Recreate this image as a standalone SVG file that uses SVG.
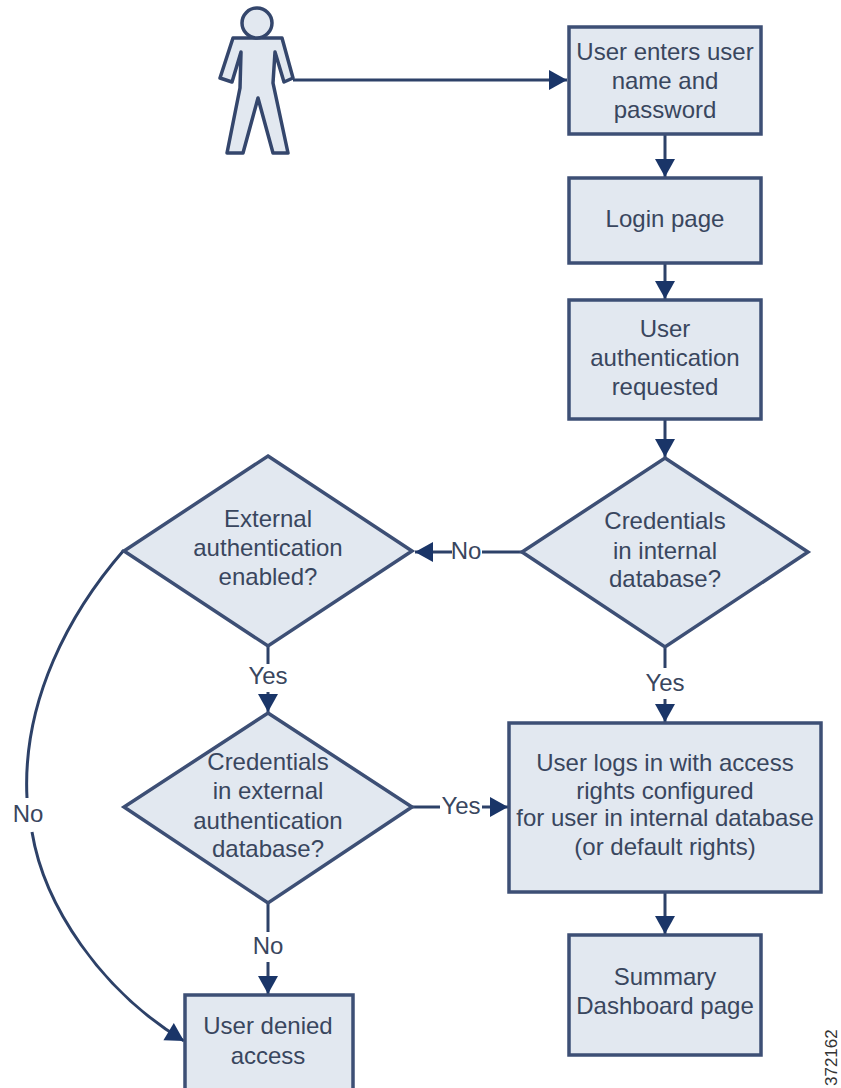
<svg xmlns="http://www.w3.org/2000/svg" width="841" height="1088" viewBox="0 0 841 1088">
<defs>
<marker id="arr" markerUnits="userSpaceOnUse" markerWidth="22" markerHeight="22" refX="19" refY="11" orient="auto"><path d="M1 1 L19 11 L1 21 Z" fill="#1a3568"/></marker>
</defs>
<style>
.n{fill:#e2e8f0;stroke:#3d4f75;stroke-width:3.5}
.c{fill:none;stroke:#2d4168;stroke-width:3}
text{font-family:"Liberation Sans",Arial,sans-serif;font-size:24px;fill:#39465e;text-anchor:middle}
</style>
<rect width="841" height="1088" fill="#fff"/>
<g id="connectors">
<path class="c" d="M293 80H567" marker-end="url(#arr)"/>
<path class="c" d="M665 134V177" marker-end="url(#arr)"/>
<path class="c" d="M665 263V299" marker-end="url(#arr)"/>
<path class="c" d="M665 419V457" marker-end="url(#arr)"/>
<path class="c" d="M522 552H482"/><path class="c" d="M452 552H415" marker-end="url(#arr)"/>
<path class="c" d="M665 648V668"/><path class="c" d="M665 699V722" marker-end="url(#arr)"/>
<path class="c" d="M268 646V664"/><path class="c" d="M268 692V712" marker-end="url(#arr)"/>
<path class="c" d="M412 807H440"/><path class="c" d="M482 807H508" marker-end="url(#arr)"/>
<path class="c" d="M665 892V934" marker-end="url(#arr)"/>
<path class="c" d="M268 903V932"/><path class="c" d="M268 962V994" marker-end="url(#arr)"/>
<path class="c" d="M124 550C70 612 22 700 27 798"/>
<path class="c" d="M32 832C44 905 100 990 184 1041" marker-end="url(#arr)"/>
</g>
<g id="user"><path d="M233 38H282L293 78L284 82L275 52L273 83L288 153H273L258 98L243 153H227L240 88L241 52L232 82L220 78Z" fill="#e2e8f0" stroke="#34466c" stroke-width="3.5" stroke-linejoin="round"/><circle cx="257" cy="23" r="15" fill="#e2e8f0" stroke="#34466c" stroke-width="3.5"/></g>
<g id="n1"><rect class="n" x="569" y="27" width="192" height="107"/><text x="665" y="60">User enters user</text><text x="665" y="89">name and</text><text x="665" y="118">password</text></g>
<g id="n2"><rect class="n" x="569" y="178" width="192" height="85"/><text x="665" y="227">Login page</text></g>
<g id="n3"><rect class="n" x="569" y="300" width="192" height="119"/><text x="665" y="337">User</text><text x="665" y="366">authentication</text><text x="665" y="395">requested</text></g>
<g id="d1"><path class="n" d="M665 458L808 552L665 647L522 552Z"/><text x="665" y="529">Credentials</text><text x="665" y="559">in internal</text><text x="665" y="587">database?</text></g>
<g id="d2"><path class="n" d="M268 456L412 551L268 646L124 551Z"/><text x="268" y="527">External</text><text x="268" y="556">authentication</text><text x="268" y="585">enabled?</text></g>
<g id="d3"><path class="n" d="M268 713L412 807L268 903L124 807Z"/><text x="268" y="770">Credentials</text><text x="268" y="799">in external</text><text x="268" y="829">authentication</text><text x="268" y="857">database?</text></g>
<g id="n4"><rect class="n" x="509" y="723" width="312" height="169"/><text x="665" y="771">User logs in with access</text><text x="665" y="799">rights configured</text><text x="665" y="826">for user in internal database</text><text x="665" y="855">(or default rights)</text></g>
<g id="n5"><rect class="n" x="569" y="935" width="192" height="120"/><text x="665" y="985">Summary</text><text x="665" y="1014">Dashboard page</text></g>
<g id="n6"><rect class="n" x="185" y="995" width="168" height="100"/><text x="268" y="1034">User denied</text><text x="268" y="1064">access</text></g>
<g id="labels">
<text x="466" y="559">No</text><text x="665" y="691">Yes</text><text x="268" y="684">Yes</text><text x="461" y="814">Yes</text><text x="268" y="954">No</text><text x="28" y="822">No</text>
<text transform="translate(837 1086) rotate(-90)" x="0" y="0" style="font-size:17px;text-anchor:start;fill:#333">372162</text>
</g>
</svg>
